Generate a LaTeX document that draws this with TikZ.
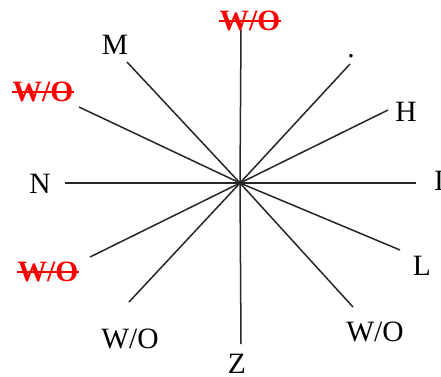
\documentclass[tikz,border=0pt]{standalone}
\usepackage{fontspec}
\setmainfont{Liberation Serif}
\begin{document}
\begin{tikzpicture}[x=1pt,y=-1pt,
  lbl/.style={inner sep=0pt,font=\fontsize{29.5}{29.5}\selectfont},
  redlbl/.style={lbl,text=red,font=\fontsize{29.5}{29.5}\selectfont\bfseries,
    append after command={\pgfextra{\let\mynode\tikzlastnode}
      (\mynode.west) edge[draw=red,line width=1.5pt] (\mynode.east)}},
  ray/.style={line width=1.5pt,color=black!85}]
\useasboundingbox (0,0) rectangle (441,376);
\coordinate (c) at (240,183);
% ray ends
\coordinate (eT) at (241,30);
\coordinate (eUR) at (350,64);
\coordinate (eH) at (388,110);
\coordinate (eR) at (416,183);
\coordinate (eL) at (400,250);
\coordinate (eBR) at (353,307);
\coordinate (eB) at (241,344);
\coordinate (eBL) at (129,302);
\coordinate (eLL) at (90,257);
\coordinate (eN) at (65,183);
\coordinate (eUL) at (79,107);
\coordinate (eM) at (127,62);
\foreach \e in {eT,eUR,eH,eR,eL,eBR,eB,eBL,eLL,eN,eUL,eM}
  \draw[ray] (c) -- (\e);
% labels
\node[redlbl] (tT) at (250,21) {W/O};
\node[redlbl] (tUL) at (43,92) {W/O};
\node[redlbl] (tLL) at (48,272) {W/O};
\node[lbl] (tM) at (115,45) {M};
\node[lbl] (tN) at (40,184) {N};
\node[lbl] (tH) at (406,112) {H};
\node[lbl] (tI) at (439,181) {I};
\node[lbl] (tL) at (422,266) {L};
\node[lbl] (tBR) at (375,332) {W/O};
\node[lbl] (tBL) at (130,339) {W/O};
\node[lbl] (tZ) at (237,364) {Z};
\node[lbl] (tD) at (351,56) {.};
\end{tikzpicture}
\end{document}
